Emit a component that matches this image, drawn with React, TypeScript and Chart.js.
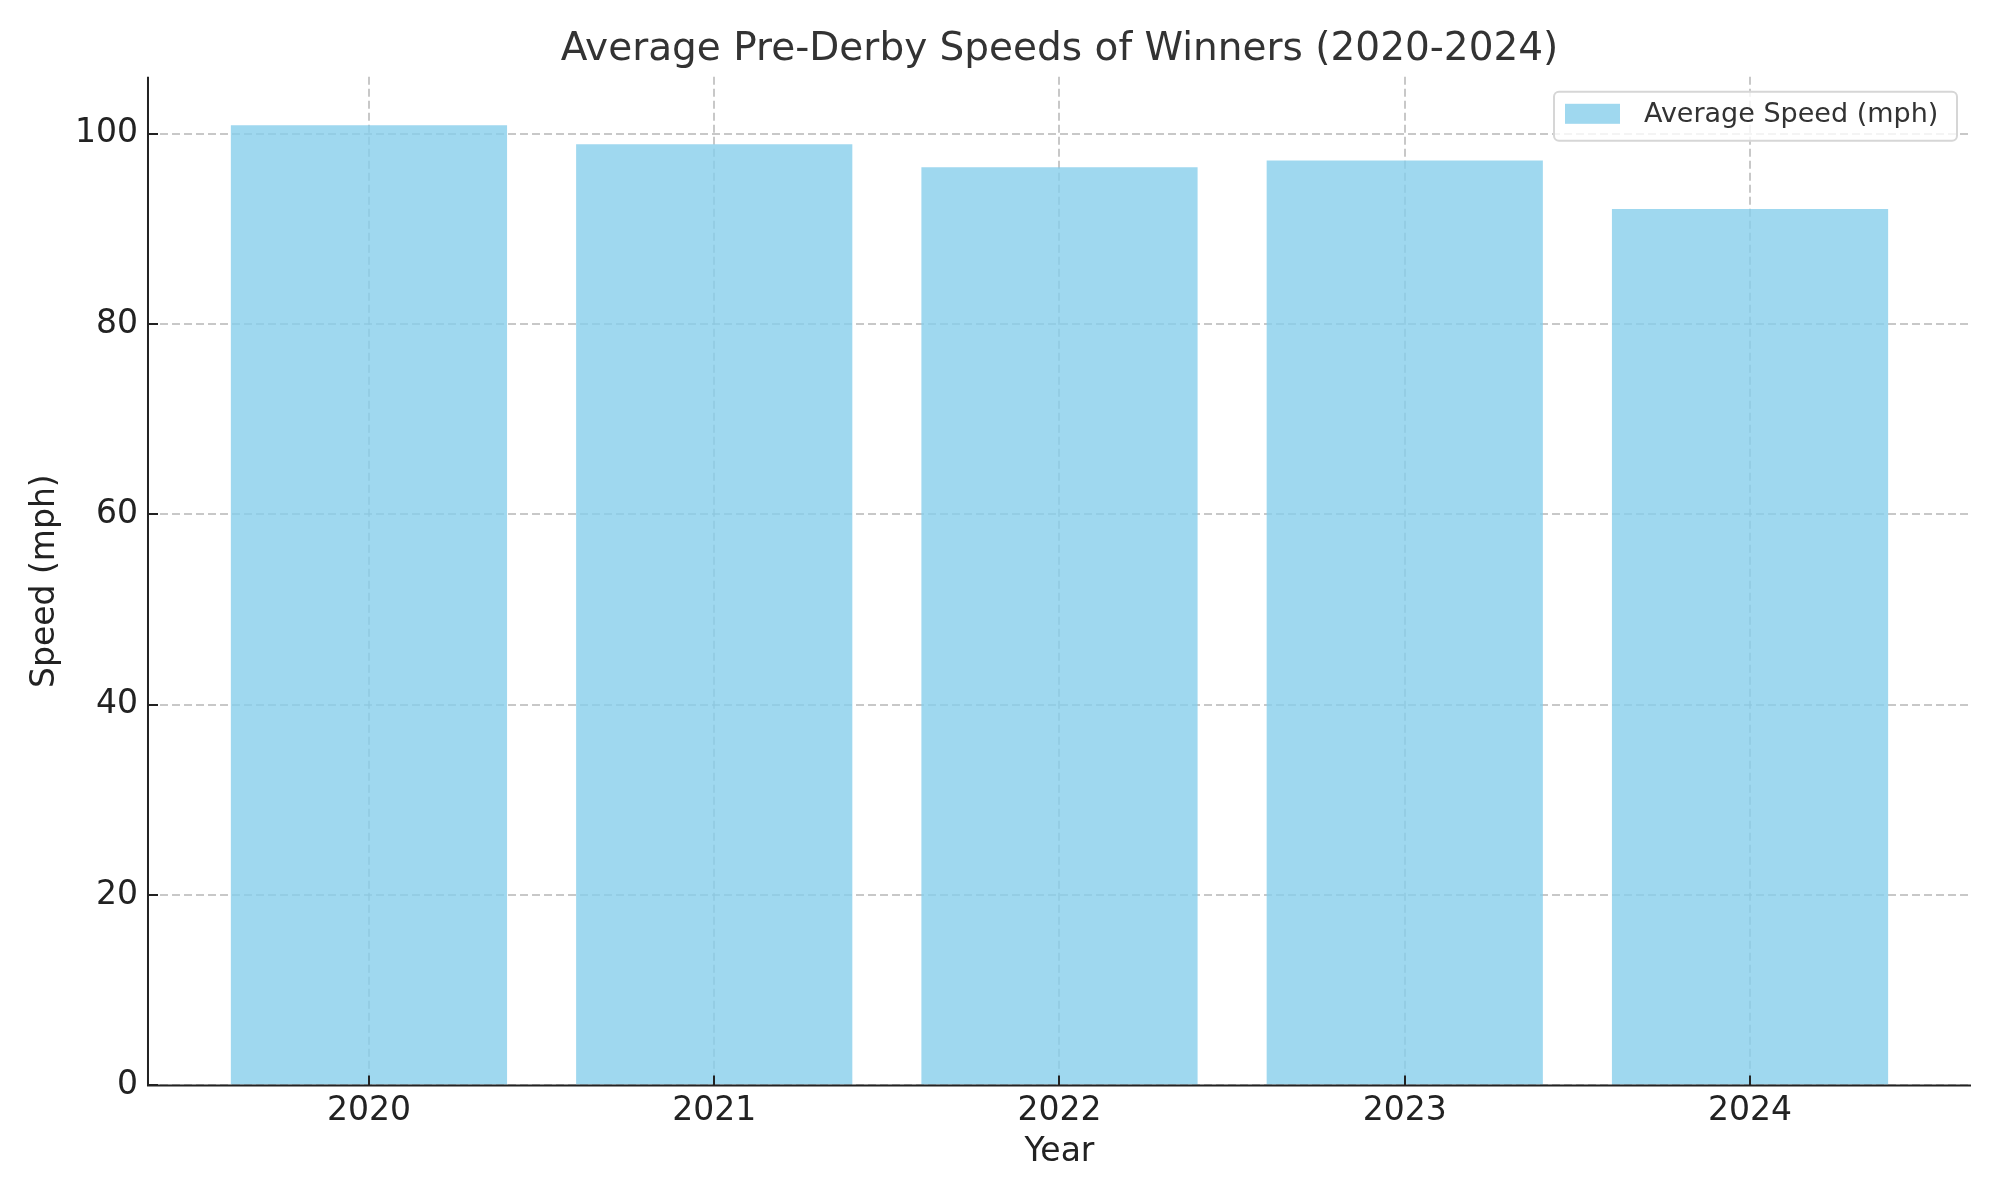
import React, { useEffect, useRef } from "react";
import { Chart, registerables } from "chart.js";

Chart.register(...registerables);

const years = ["2020", "2021", "2022", "2023", "2024"];
const speeds = [100.9, 98.9, 96.5, 97.2, 92.1];
const yTickValues = [0, 20, 40, 60, 80, 100];
const seriesLabel = "Average Speed (mph)";
const chartTitle = "Average Pre-Derby Speeds of Winners (2020-2024)";
const xAxisTitle = "Year";
const yAxisTitle = "Speed (mph)";

const FONT = "'DejaVu Sans', 'Noto Sans', sans-serif";
const BAR_COLOR = "rgba(135,206,235,0.8)";
const GRID_COLOR = "rgba(176,176,176,0.7)";

const axesPlugin = {
  id: "axesDecor",
  afterDraw(chart: any) {
    const { ctx, chartArea, scales } = chart;
    const { left, right, top, bottom } = chartArea;
    ctx.save();
    ctx.strokeStyle = "#222";
    ctx.lineWidth = 2;
    ctx.setLineDash([]);
    // spines
    ctx.beginPath();
    ctx.moveTo(left, top);
    ctx.lineTo(left, bottom + 1);
    ctx.moveTo(left - 1, bottom);
    ctx.lineTo(right, bottom);
    ctx.stroke();
    // inward ticks
    scales.y.ticks.forEach((t: any) => {
      const y = Math.round(scales.y.getPixelForValue(t.value));
      ctx.beginPath();
      ctx.moveTo(left, y);
      ctx.lineTo(left + 10, y);
      ctx.stroke();
    });
    scales.x.ticks.forEach((t: any) => {
      const x = Math.round(scales.x.getPixelForValue(t.value));
      ctx.beginPath();
      ctx.moveTo(x, bottom);
      ctx.lineTo(x, bottom - 10);
      ctx.stroke();
    });
    // axis titles
    ctx.fillStyle = "#222";
    ctx.font = `33px ${FONT}`;
    ctx.textAlign = "center";
    ctx.textBaseline = "middle";
    ctx.fillText(xAxisTitle, (left + right) / 2, bottom + 67);
    ctx.save();
    ctx.translate(left - 103, (top + bottom) / 2);
    ctx.rotate(-Math.PI / 2);
    ctx.fillText(yAxisTitle, 0, 0);
    ctx.restore();
    ctx.restore();
  },
};

const legendBoxPlugin = {
  id: "legendBox",
  afterDraw(chart: any) {
    const { ctx, chartArea } = chart;
    const w = 403;
    const h = 49;
    const x = chartArea.right - 14 - w;
    const y = chartArea.top + 15;
    ctx.save();
    ctx.fillStyle = "rgba(255,255,255,0.8)";
    ctx.strokeStyle = "#d6d6d6";
    ctx.lineWidth = 2;
    ctx.beginPath();
    (ctx as any).roundRect(x, y, w, h, 5);
    ctx.fill();
    ctx.stroke();
    ctx.fillStyle = BAR_COLOR;
    ctx.fillRect(x + 11, y + 12, 55, 20);
    ctx.fillStyle = "#333";
    ctx.font = `27px ${FONT}`;
    ctx.textBaseline = "middle";
    ctx.textAlign = "left";
    ctx.fillText(chart.data.datasets[0].label, x + 90, y + 23);
    ctx.restore();
  },
};

export default function App() {
  const ref = useRef<HTMLCanvasElement | null>(null);
  useEffect(() => {
    if (!ref.current) return;
    const chart = new Chart(ref.current, {
      type: "bar",
      data: {
        datasets: [
          {
            label: seriesLabel,
            data: speeds.map((v, i) => ({ x: i, y: v })),
            backgroundColor: BAR_COLOR,
            borderWidth: 0,
            barPercentage: 0.8,
            categoryPercentage: 1,
          },
        ],
      },
      options: {
        responsive: false,
        animation: false,
        maintainAspectRatio: false,
        layout: { padding: { left: 65, right: 29, top: 26, bottom: 63 } },
        plugins: {
          legend: { display: false },
          tooltip: { enabled: false },
          title: {
            display: true,
            text: chartTitle,
            fullSize: false,
            color: "#333",
            font: { family: FONT, size: 39, weight: "normal" },
            padding: { top: 0, bottom: 4 },
          },
        },
        scales: {
          x: {
            type: "linear",
            min: -0.64,
            max: 4.64,
            offset: false,
            z: 1,
            afterBuildTicks: (scale: any) => {
              scale.ticks = years.map((_, i) => ({ value: i }));
            },
            ticks: {
              callback: (v: any) => years[v as number] ?? "",
              color: "#222",
              font: { family: FONT, size: 33 },
              padding: 6,
              maxRotation: 0,
              autoSkip: false,
            },
            grid: {
              color: GRID_COLOR,
              lineWidth: 2,
              offset: false,
              drawTicks: false,
            },
            border: { display: false, dash: [8, 4] },
            title: { display: false },
          },
          y: {
            min: 0,
            max: 106,
            z: 1,
            afterBuildTicks: (scale: any) => {
              scale.ticks = yTickValues.map((v) => ({ value: v }));
            },
            ticks: {
              color: "#222",
              font: { family: FONT, size: 33 },
              padding: 10,
            },
            grid: {
              color: GRID_COLOR,
              lineWidth: 2,
              drawTicks: false,
            },
            border: { display: false, dash: [8, 4] },
            title: { display: false },
          },
        },
      },
      plugins: [axesPlugin, legendBoxPlugin],
    } as any);
    return () => chart.destroy();
  }, []);
  return (
    <div style={{ position: "fixed", left: 0, top: 0, width: 2000, height: 1200, background: "#fff" }}>
      <canvas ref={ref} width={2000} height={1200} style={{ width: 2000, height: 1200 }} />
    </div>
  );
}
